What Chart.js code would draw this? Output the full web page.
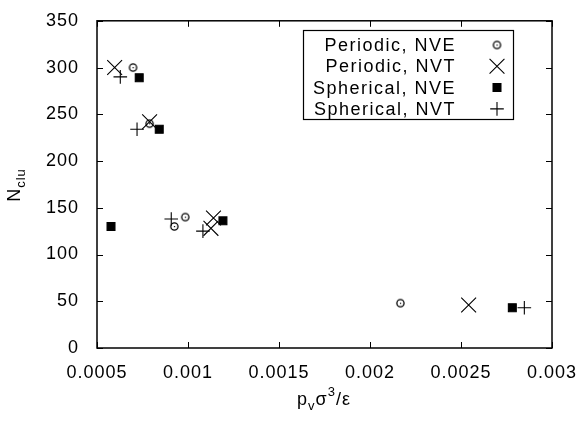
<!DOCTYPE html>
<html>
<head>
<meta charset="utf-8">
<script src="https://cdn.jsdelivr.net/npm/chart.js@4/dist/chart.umd.min.js"></script>
<style>
  html, body { margin: 0; padding: 0; background: #fff; }
  #wrap { width: 582px; height: 421px; }
</style>
</head>
<body>
<div id="wrap"><canvas id="chart"></canvas></div>
<script>
// values
const periodicNveX = [0.000698, 0.000789, 0.000925, 0.000985, 0.002167];
const periodicNveY = [300, 240, 130, 140, 48];
const periodicNvtX = [0.000597, 0.000789, 0.00114, 0.001126, 0.002542];
const periodicNvtY = [300, 242, 139, 128, 46];
const sphericalNveX = [0.000577, 0.000732, 0.000842, 0.001192, 0.002782];
const sphericalNveY = [130, 289, 234, 136, 43];
const sphericalNvtX = [0.000628, 0.00072, 0.000908, 0.001082, 0.002848];
const sphericalNvtY = [290, 234, 138, 125, 43];

const seriesLabels = ["Periodic, NVE", "Periodic, NVT", "Spherical, NVE", "Spherical, NVT"];
const xTicks = [0.0005, 0.001, 0.0015, 0.002, 0.0025, 0.003];
const yTicks = [0, 50, 100, 150, 200, 250, 300, 350];

const FONT = "'Liberation Sans', Arial, sans-serif";

function pts(xs, ys) {
  return xs.map((x, i) => ({ x: x, y: ys[i] }));
}

// small open circle with a dot in the middle
function circleDot() {
  const c = document.createElement("canvas");
  c.width = 11; c.height = 11;
  const g = c.getContext("2d");
  g.strokeStyle = "#000";
  g.lineWidth = 1.3;
  g.beginPath();
  g.arc(5.5, 5.5, 3.6, 0, Math.PI * 2);
  g.stroke();
  g.fillStyle = "#000";
  g.fillRect(5, 5, 1.2, 1.2);
  return c;
}
const dotCircle = circleDot();

const styles = [
  { pointStyle: dotCircle, radius: 5 },
  { pointStyle: "crossRot", radius: 10.5 },
  { pointStyle: "rect", radius: 5.6 },
  { pointStyle: "cross", radius: 6.8 }
];

// frame, inward ticks on all sides, legend box and axis titles
const gnuplotLook = {
  id: "gnuplotLook",
  beforeDraw(chart) {
    chart.ctx.letterSpacing = "1px";
  },
  afterDraw(chart) {
    const ctx = chart.ctx;
    const a = chart.chartArea;
    const xs = chart.scales.x, ys = chart.scales.y;
    ctx.save();
    ctx.strokeStyle = "#000";
    ctx.lineWidth = 1.5;
    ctx.strokeRect(a.left, a.top, a.right - a.left, a.bottom - a.top);
    ctx.lineWidth = 1;
    ctx.beginPath();
    xTicks.forEach(v => {
      const px = Math.round(xs.getPixelForValue(v)) + 0.5;
      ctx.moveTo(px, a.bottom); ctx.lineTo(px, a.bottom - 6);
      ctx.moveTo(px, a.top); ctx.lineTo(px, a.top + 6);
    });
    yTicks.forEach(v => {
      const py = Math.round(ys.getPixelForValue(v)) + 0.5;
      ctx.moveTo(a.left, py); ctx.lineTo(a.left + 6, py);
      ctx.moveTo(a.right, py); ctx.lineTo(a.right - 6, py);
    });
    ctx.stroke();

    // legend
    ctx.lineWidth = 1.2;
    ctx.fillStyle = "#fff";
    ctx.fillRect(303, 30, 210, 89);
    ctx.strokeRect(303.5, 30.5, 210, 89);
    ctx.fillStyle = "#000";
    ctx.font = "18px " + FONT;
    ctx.letterSpacing = "1.5px";
    ctx.textAlign = "right";
    ctx.textBaseline = "middle";
    chart.data.datasets.forEach((ds, i) => {
      const y = 45 + i * 21.3;
      ctx.fillText(seriesLabels[i], 456, y + 1);
      const st = styles[i];
      ctx.save();
      ctx.lineWidth = 1.1;
      if (st.pointStyle === dotCircle) {
        ctx.drawImage(dotCircle, 497 - 5.5, y - 5.5);
      } else {
        Chart.helpers.drawPoint(ctx, {
          pointStyle: st.pointStyle, radius: st.radius, rotation: 0, borderWidth: 1.1
        }, 497, y);
        if (st.pointStyle === "rect") ctx.fill();
      }
      ctx.restore();
    });

    // x title: p_v sigma^3 / epsilon
    ctx.textAlign = "left";
    ctx.textBaseline = "alphabetic";
    ctx.letterSpacing = "1px";
    const parts = [
      { t: "p", s: 18, dy: 0 },
      { t: "v", s: 13, dy: 5 },
      { t: "σ", s: 18, dy: 0 },
      { t: "3", s: 13, dy: -9 },
      { t: "/ε", s: 18, dy: 0 }
    ];
    let w = 0;
    parts.forEach(p => { ctx.font = p.s + "px " + FONT; w += ctx.measureText(p.t).width; });
    let x = 324 - w / 2;
    parts.forEach(p => {
      ctx.font = p.s + "px " + FONT;
      ctx.fillText(p.t, x, 405 + p.dy);
      x += ctx.measureText(p.t).width;
    });

    // y title: N_clu, rotated
    ctx.translate(20, 185);
    ctx.rotate(-Math.PI / 2);
    ctx.font = "18px " + FONT;
    const wN = ctx.measureText("N").width;
    ctx.font = "13px " + FONT;
    const wS = ctx.measureText("clu").width;
    ctx.font = "18px " + FONT;
    ctx.fillText("N", -(wN + wS) / 2, 0);
    ctx.font = "13px " + FONT;
    ctx.fillText("clu", -(wN + wS) / 2 + wN, 5);
    ctx.restore();
  }
};

const datasets = [
  pts(periodicNveX, periodicNveY),
  pts(periodicNvtX, periodicNvtY),
  pts(sphericalNveX, sphericalNveY),
  pts(sphericalNvtX, sphericalNvtY)
].map((data, i) => ({
  label: seriesLabels[i],
  data: data,
  pointStyle: styles[i].pointStyle,
  pointRadius: styles[i].radius,
  pointBorderWidth: 1.1,
  pointBorderColor: "#000",
  pointBackgroundColor: i === 2 ? "#000" : "rgba(0,0,0,0)",
  showLine: false
}));

new Chart(document.getElementById("chart"), {
  type: "scatter",
  data: { datasets: datasets },
  options: {
    responsive: true,
    maintainAspectRatio: false,
    animation: false,
    events: [],
    layout: { padding: { left: 0, right: 30, top: 19, bottom: 0 } },
    plugins: {
      legend: { display: false },
      tooltip: { enabled: false }
    },
    scales: {
      x: {
        type: "linear",
        min: 0.0005,
        max: 0.003,
        afterFit(s) { s.height = 73; },
        afterBuildTicks(s) { s.ticks = xTicks.map(v => ({ value: v })); },
        grid: { display: false },
        border: { display: false },
        ticks: {
          padding: 6,
          color: "#000",
          maxRotation: 0,
          font: { family: FONT, size: 18 },
          callback: v => String(+v.toFixed(4))
        }
      },
      y: {
        type: "linear",
        min: 0,
        max: 350,
        afterFit(s) { s.width = 97; },
        afterBuildTicks(s) { s.ticks = yTicks.map(v => ({ value: v })); },
        grid: { display: false },
        border: { display: false },
        ticks: {
          padding: 10,
          color: "#000",
          font: { family: FONT, size: 18 }
        }
      }
    }
  },
  plugins: [gnuplotLook]
});
</script>
</body>
</html>
